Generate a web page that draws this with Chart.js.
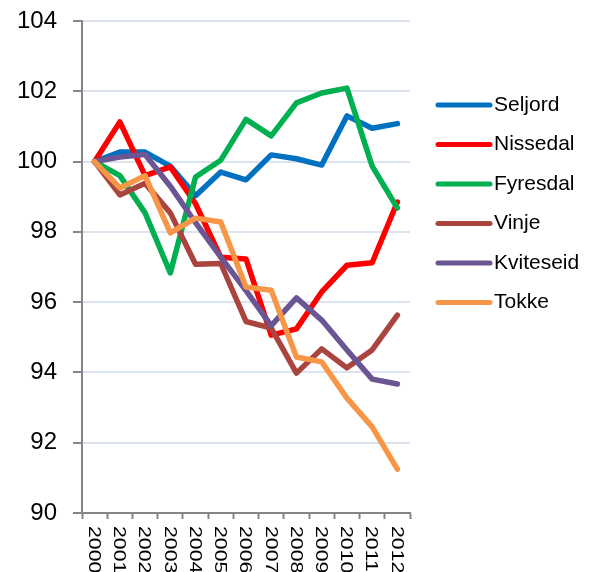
<!DOCTYPE html>
<html>
<head>
<meta charset="utf-8">
<script src="https://cdn.jsdelivr.net/npm/chart.js@4/dist/chart.umd.min.js"></script>
<style>
  html, body { margin: 0; padding: 0; background: #fff; }
  canvas { display: block; }
</style>
</head>
<body>
<canvas id="chart" width="592" height="572"></canvas>
<script>
var years = ['2000','2001','2002','2003','2004','2005','2006','2007','2008','2009','2010','2011','2012'];

var seljord   = [100, 100.27, 100.27, 99.87, 99.03, 99.70, 99.48, 100.19, 100.08, 99.90, 101.30, 100.95, 101.08];
var nissedal  = [100, 101.13, 99.60, 99.85, 98.80, 97.28, 97.23, 95.06, 95.24, 96.29, 97.05, 97.12, 98.85];
var fyresdal  = [100, 99.60, 98.54, 96.83, 99.56, 100.04, 101.20, 100.73, 101.67, 101.95, 102.09, 99.87, 98.68];
var vinje     = [100, 99.05, 99.38, 98.54, 97.08, 97.10, 95.45, 95.26, 93.98, 94.67, 94.13, 94.64, 95.63];
var kviteseid = [100, 100.13, 100.20, 99.30, 98.26, 97.28, 96.33, 95.33, 96.12, 95.49, 94.64, 93.81, 93.67];
var tokke     = [100, 99.25, 99.60, 97.97, 98.39, 98.28, 96.43, 96.34, 94.44, 94.30, 93.27, 92.45, 91.25];

var names  = ['Seljord','Nissedal','Fyresdal','Vinje','Kviteseid','Tokke'];
var series = [seljord, nissedal, fyresdal, vinje, kviteseid, tokke];
var colors = ['#0070c0','#ff0000','#00b050','#a9443f','#6b5593','#f79646'];

var yMin = 90, yMax = 104, yStep = 2;

var FONT = '"Liberation Sans", Arial, sans-serif';

// x labels read top-to-bottom, legend sits at the right
var extras = {
    id: 'extras',
    afterDraw: function(chart){
        var ctx = chart.ctx;
        var xs = chart.scales.x;
        ctx.save();
        ctx.fillStyle = '#000';
        ctx.font = '17px ' + FONT;
        ctx.textAlign = 'left';
        ctx.textBaseline = 'middle';
        for(var i=0; i<years.length; i++){
            var x = xs.getPixelForTick(i) - 1;
            ctx.save();
            ctx.translate(x, chart.chartArea.bottom + 13);
            ctx.rotate(Math.PI/2);
            ctx.scale(1.25, 1);
            ctx.fillText(years[i], 0, 0);
            ctx.restore();
        }
        ctx.restore();

        ctx.save();
        ctx.font = '21px ' + FONT;
        ctx.textAlign = 'left';
        ctx.textBaseline = 'middle';
        for(var j=0; j<names.length; j++){
            var y = 105 + j*39.5;
            ctx.strokeStyle = colors[j];
            ctx.lineWidth = 5;
            ctx.lineCap = 'round';
            ctx.beginPath();
            ctx.moveTo(438, y);
            ctx.lineTo(490, y);
            ctx.stroke();
            ctx.fillStyle = '#000';
            ctx.fillText(names[j], 494, y);
        }
        ctx.restore();
    }
};

var datasets = [];
for(var i=0; i<names.length; i++){
    datasets.push({
        label: names[i],
        data: series[i],
        borderColor: colors[i],
        backgroundColor: colors[i],
        borderWidth: 5.5,
        borderJoinStyle: 'round',
        borderCapStyle: 'round',
        pointRadius: 0,
        tension: 0,
        order: names.length - 1 - i
    });
}

new Chart(document.getElementById('chart').getContext('2d'), {
    type: 'line',
    data: { labels: years, datasets: datasets },
    plugins: [extras],
    options: {
        responsive: false,
        devicePixelRatio: 1,
        animation: false,
        layout: { padding: { top: 21, right: 182, left: 0, bottom: 0 } },
        plugins: { legend: { display: false }, tooltip: { enabled: false } },
        scales: {
            x: {
                offset: true,
                grid: { offset: true, drawOnChartArea: false, drawTicks: true, tickLength: 6, tickColor: '#868686', tickWidth: 2 },
                border: { color: '#868686', width: 2 },
                ticks: { display: false },
                afterFit: function(s){ s.height = 59; s.paddingLeft = 0; s.paddingRight = 0; }
            },
            y: {
                min: yMin,
                max: yMax,
                ticks: { stepSize: yStep, color: '#000', font: { family: FONT, size: 24 }, padding: 16 },
                grid: { color: '#dbe3ee', lineWidth: 2, tickLength: 9, tickColor: '#868686', tickWidth: 2 },
                border: { color: '#868686', width: 2 },
                afterFit: function(s){ s.width = 82; s.paddingTop = 0; s.paddingBottom = 0; }
            }
        }
    }
});
</script>
</body>
</html>
